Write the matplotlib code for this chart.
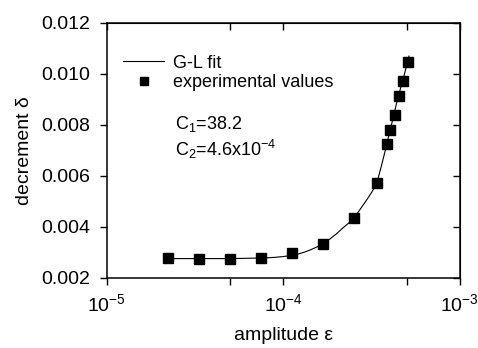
import numpy as np
import matplotlib
matplotlib.use("Agg")
import matplotlib.pyplot as plt

plt.rcParams['font.family'] = ['Liberation Sans', 'DejaVu Sans']
plt.rcParams['mathtext.fontset'] = 'custom'
plt.rcParams['mathtext.rm'] = 'Liberation Sans'
plt.rcParams['mathtext.it'] = 'Liberation Sans'
plt.rcParams['mathtext.default'] = 'regular'

# measured decrement vs strain amplitude
eps_exp = [2.23e-5, 3.33e-5, 5.0e-5, 7.5e-5, 1.12e-4, 1.67e-4, 2.51e-4,
           3.38e-4, 3.85e-4, 4.02e-4, 4.27e-4, 4.50e-4, 4.78e-4, 5.06e-4]
delta_exp = [0.00276, 0.00275, 0.00275, 0.00277, 0.00296, 0.00332, 0.00433,
             0.00571, 0.00726, 0.00780, 0.00840, 0.00913, 0.00973, 0.01048]

# Granato-Luecke fitted curve
eps_fit = [2.2e-5, 3.0e-5, 4.0e-5, 5.0e-5, 6.0e-5, 7.0e-5, 8.0e-5, 9.0e-5,
           1.0e-4, 1.1e-4, 1.2e-4, 1.3e-4, 1.4e-4, 1.5e-4, 1.6e-4, 1.7e-4,
           1.8e-4, 2.0e-4, 2.2e-4, 2.4e-4, 2.6e-4, 2.8e-4, 3.0e-4, 3.2e-4,
           3.4e-4, 3.6e-4, 3.8e-4, 4.0e-4, 4.2e-4, 4.4e-4, 4.6e-4, 4.8e-4,
           5.0e-4, 5.15e-4]
delta_fit = [0.00275, 0.00275, 0.00275, 0.00275, 0.00276, 0.00277, 0.00278, 0.00280,
             0.00283, 0.00287, 0.00292, 0.00299, 0.00307, 0.00316, 0.00325, 0.00335,
             0.00347, 0.00372, 0.00398, 0.00420, 0.00448, 0.00480, 0.00510, 0.00540,
             0.00575, 0.00640, 0.00705, 0.00770, 0.00830, 0.00890, 0.00940, 0.00985,
             0.01035, 0.01070]

x_ticks = [1e-5, 5e-5, 1e-4, 5e-4, 1e-3]
x_ticklabels = ['$10^{-5}$', '', '$10^{-4}$', '', '$10^{-3}$']
y_ticks = [0.002, 0.004, 0.006, 0.008, 0.010, 0.012]

fig = plt.figure(figsize=(4.78, 3.48), dpi=100)
ax = fig.add_axes([0.223, 0.202, 0.739, 0.732])

ax.plot(eps_fit, delta_fit, color='black', lw=0.8, label='G-L fit')
ax.plot(eps_exp, delta_exp, ls='none', marker='s', ms=7.2, color='black',
        label='experimental values')

ax.set_xscale('log')
ax.set_xlim(1e-5, 1e-3)
ax.set_ylim(0.002, 0.012)
ax.set_xticks(x_ticks)
ax.set_xticklabels(x_ticklabels)
ax.xaxis.set_minor_locator(matplotlib.ticker.NullLocator())
ax.set_yticks(y_ticks)
ax.set_yticklabels([f'{v:.3f}' for v in y_ticks])
ax.tick_params(direction='out', length=5, width=1, labelsize=14)
ax.tick_params(axis='x', pad=6)
ax.tick_params(axis='y', pad=7)

for s in ax.spines.values():
    s.set_linewidth(1.1)

# inward ticks on the top and right sides
top = ax.secondary_xaxis('top')
top.set_xticks(x_ticks)
top.xaxis.set_minor_locator(matplotlib.ticker.NullLocator())
top.tick_params(direction='in', length=5, width=1, labeltop=False)
right = ax.secondary_yaxis('right')
right.set_yticks(y_ticks)
right.tick_params(direction='in', length=5, width=1, labelright=False)

ax.set_xlabel('amplitude ε', fontsize=14, labelpad=9)
ax.set_ylabel('decrement δ', fontsize=14, labelpad=6)

ax.legend(loc='upper left', bbox_to_anchor=(0.046, 0.876), frameon=False,
          fontsize=13, handlelength=2.3, handletextpad=0.5, labelspacing=0.15,
          borderpad=0, borderaxespad=0, markerscale=0.75)

ax.text(0.194, 0.603, '$C_1$=38.2', transform=ax.transAxes, fontsize=13, va='center')
ax.text(0.194, 0.505, '$C_2$=4.6x10$^{-4}$', transform=ax.transAxes, fontsize=13, va='center')

fig.savefig('out.png', dpi=100)
